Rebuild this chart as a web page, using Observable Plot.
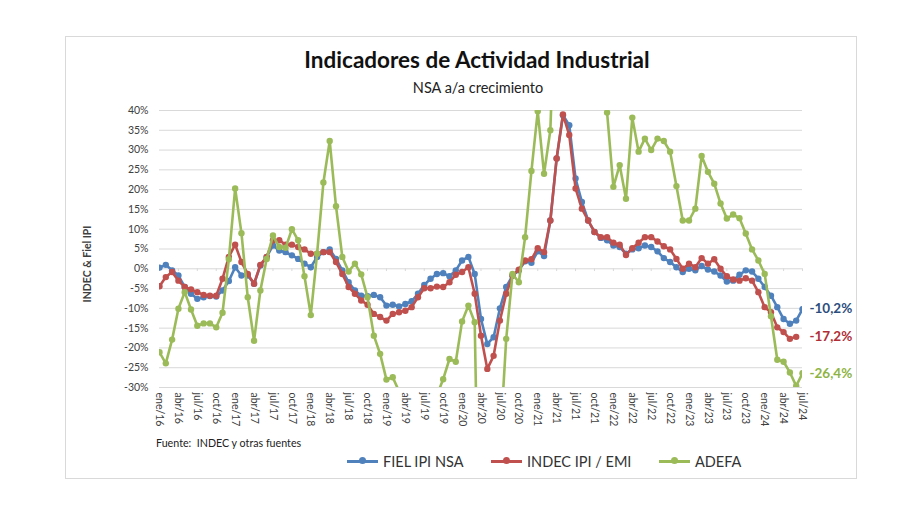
<!DOCTYPE html>
<html>
<head>
<meta charset="utf-8">
<script src="https://cdn.jsdelivr.net/npm/d3@7"></script>
<script src="https://cdn.jsdelivr.net/npm/@observablehq/plot@0.6"></script>
<style>
  html, body { margin: 0; padding: 0; background: #fff; }
  #page { position: relative; width: 900px; height: 505px; overflow: hidden; font-family: Lato, "Open Sans", sans-serif; }
  #box { position: absolute; left: 65px; top: 36px; width: 790px; height: 441px; border: 1px solid #d9d9d9; }
  #chart { position: absolute; left: 0; top: 0; }
  .t { position: absolute; white-space: nowrap; }
  #title { left: 477px; top: 46px; transform: translateX(-50%); font-size: 22.5px; font-weight: 700; color: #111; }
  #subtitle { left: 478px; top: 79px; transform: translateX(-50%); font-size: 14.5px; color: #222; }
  #ylabel { left: 87px; top: 264px; transform: translate(-50%, -50%) rotate(-90deg); font-size: 10.5px; font-weight: 700; color: #404040; }
  #source { left: 156px; top: 436px; font-size: 10.7px; color: #222; }
  .leg { position: absolute; top: 452px; height: 18px; display: flex; align-items: center; font-size: 14.5px; color: #333; }
  .sw { position: relative; width: 31px; height: 3px; margin-right: 5px; }
  .sw i { position: absolute; left: 12px; top: -2.5px; width: 7px; height: 7px; border-radius: 50%; }
</style>
</head>
<body>
<div id="page">
  <div id="box"></div>
  <div id="chart"></div>
  <div class="t" id="title">Indicadores de Actividad Industrial</div>
  <div class="t" id="subtitle">NSA a/a crecimiento</div>
  <div class="t" id="ylabel">INDEC &amp; Fiel IPI</div>
  <div class="t" id="source">Fuente:&nbsp; INDEC y otras fuentes</div>
  <div class="leg" style="left:347px"><div class="sw" style="background:#4f81bd"><i style="background:#4f81bd"></i></div>FIEL IPI NSA</div>
  <div class="leg" style="left:491px"><div class="sw" style="background:#c0504d"><i style="background:#c0504d"></i></div>INDEC IPI / EMI</div>
  <div class="leg" style="left:659px"><div class="sw" style="background:#9bbb59"><i style="background:#9bbb59"></i></div>ADEFA</div>
</div>
<script>
// Categories: monthly, ene/16 .. jul/24
const monthNames = ["ene","feb","mar","abr","may","jun","jul","ago","sep","oct","nov","dic"];
const yearLabels = ["16","17","18","19","20","21","22","23","24"];
const categories = [];
for (const yy of yearLabels) for (const m of monthNames) categories.push(m + "/" + yy);
categories.length = 103; // ene/16 .. jul/24
// Tick labels shown on the axis (every quarter)
const tickLabels = categories.filter((d, i) => i % 3 === 0);
const yTicks = [-30, -25, -20, -15, -10, -5, 0, 5, 10, 15, 20, 25, 30, 35, 40];

// FIEL IPI NSA (% a/a)
const fiel = [0.3,1.0,-0.4,-1.7,-4.6,-6.3,-7.6,-7.2,-6.9,-7.0,-5.5,-3.1,0.4,-1.7,-1.7,-3.8,0.8,3.0,5.9,4.6,
  4.2,3.4,2.5,1.3,0.4,3.0,4.2,4.9,2.5,-0.4,-3.4,-5.5,-6.8,-6.9,-6.6,-7.2,-9.3,-9.1,-9.5,-8.9,
  -8.2,-6.3,-4.1,-2.5,-1.3,-1.1,-1.9,-0.4,2.1,3.0,-1.3,-12.7,-19.0,-17.3,-10.0,-4.6,-1.7,-0.4,1.9,1.5,
  4.4,3.2,12.2,27.9,38.8,36.3,22.8,16.9,12.2,9.3,7.8,7.2,5.9,5.5,3.8,4.9,5.2,5.9,5.5,4.4,
  2.7,1.7,0.4,-0.8,0.0,-0.4,0.7,-0.2,-0.7,-1.7,-3.2,-3.0,-1.5,-0.4,-0.7,-2.5,-4.6,-6.8,-9.7,-12.7,
  -13.9,-13.1,-10.2];
// INDEC IPI / EMI (% a/a)
const indec = [-4.4,-2.1,-0.8,-3.0,-4.6,-5.2,-5.9,-6.6,-6.8,-6.8,-2.5,3.0,6.1,1.7,-1.3,-3.8,1.0,3.0,7.2,7.2,
  6.1,6.1,5.5,4.9,3.8,3.8,4.2,4.2,1.7,-1.3,-4.6,-6.3,-8.0,-9.1,-11.4,-12.2,-13.1,-11.4,-11.0,-10.6,
  -9.7,-7.2,-4.9,-4.9,-4.5,-4.6,-3.4,-1.5,-0.8,0.4,-6.3,-16.9,-25.3,-22.0,-13.1,-6.3,-1.7,-0.2,2.1,2.4,
  5.2,4.2,12.2,27.9,39.0,33.8,20.3,15.2,12.2,9.3,8.0,8.0,6.6,6.1,3.5,5.2,6.6,8.0,8.0,6.9,
  5.7,4.9,2.5,0.0,1.3,0.4,2.7,1.3,2.4,0.0,-1.9,-2.7,-3.0,-2.4,-3.0,-5.9,-9.7,-11.0,-14.8,-16.0,
  -17.7,-17.2];
// ADEFA (% a/a) — values beyond the axis range are estimates, clipped by the frame
const adefa = [-21.1,-23.9,-17.9,-10.1,-5.9,-10.3,-14.4,-13.8,-13.8,-14.8,-11.1,2.4,20.3,9.0,-7.2,-18.2,-5.5,2.5,8.4,5.5,
  5.3,10.0,7.2,-1.9,-11.7,3.8,21.8,32.3,15.8,3.0,-0.7,1.3,-1.4,-7.2,-16.9,-21.5,-28.0,-27.4,-31,-35,
  -38,-40,-37,-34,-32,-27.9,-22.8,-23.5,-13.3,-9.3,-13.5,-100,-85,-60,-45,-17.7,-1.3,-3.4,8.0,24.7,
  39.8,24.0,35.0,80,300,150,90,60,55,50,45,39.5,20.7,26.2,17.7,38.2,29.6,32.9,30.0,32.9,
  32.3,29.6,20.9,12.2,12.2,15.2,28.5,24.5,21.5,16.5,12.7,13.7,12.8,8.9,4.9,2.1,-1.3,-12.0,-23.0,-23.5,
  -26.2,-29.6,-26.4];

const seriesNames = ["FIEL IPI NSA", "INDEC IPI / EMI", "ADEFA"];
const seriesValues = [fiel, indec, adefa];
const lineColors = ["#4f81bd", "#c0504d", "#9bbb59"];
const labelColors = ["#2c4e7e", "#b02e36", "#8db343"];
const endLabels = ["-10,2%", "-17,2%", "-26,4%"];

const rows = seriesNames.map((s, k) => seriesValues[k].map((v, i) => ({cat: categories[i], v, s})));
const ends = seriesNames.map((s, k) => ({cat: categories[categories.length - 1], v: seriesValues[k][seriesValues[k].length - 1], label: endLabels[k], color: labelColors[k]}));

const marks = [
  Plot.gridY(yTicks, {stroke: "#d9d9d9", strokeOpacity: 1, strokeWidth: 1}),
  Plot.ruleX(tickLabels, {x: d => d, y1: 0, y2: -0.7, stroke: "#d9d9d9"}),
  Plot.axisY(yTicks, {tickSize: 0, tickPadding: 11, tickFormat: d => d + "%", fontSize: 10.5, fill: "#404040", label: null}),
  Plot.axisX(tickLabels, {anchor: "bottom", tickSize: 0, tickPadding: 5, tickRotate: 90, fontSize: 10.5, fill: "#404040", label: null})
];
rows.forEach((r, k) => {
  marks.push(Plot.line(r, {x: "cat", y: "v", stroke: lineColors[k], strokeWidth: 2.6, clip: true}));
  marks.push(Plot.dot(r, {x: "cat", y: "v", r: 3.2, fill: lineColors[k], stroke: null, clip: true}));
});
marks.push(Plot.text(ends, {x: "cat", y: "v", text: "label", fill: "color", dx: 7, textAnchor: "start", fontSize: 13.5, fontWeight: 700}));

const chart = Plot.plot({
  width: 900, height: 505,
  marginLeft: 159, marginRight: 98, marginTop: 110, marginBottom: 118,
  style: {background: "transparent", fontFamily: "Lato, 'Open Sans', sans-serif", overflow: "visible"},
  x: {type: "point", domain: categories, padding: 0, axis: null, label: null},
  y: {domain: [-30, 40], axis: null, label: null},
  marks
});
document.getElementById("chart").appendChild(chart);
</script>
</body>
</html>
